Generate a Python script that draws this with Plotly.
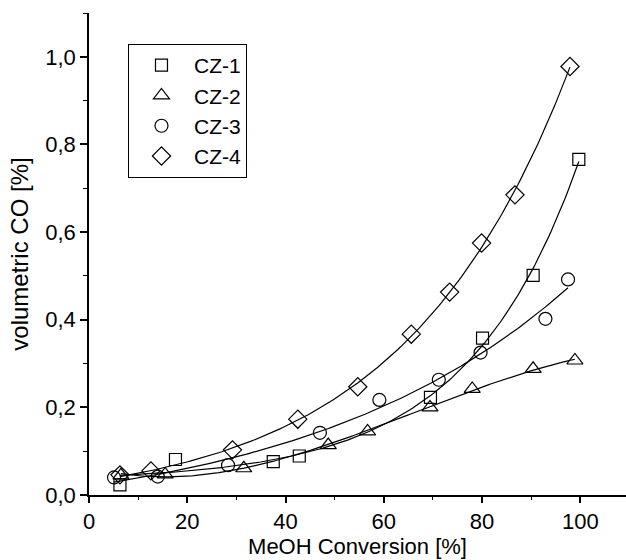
import numpy as np
import plotly.graph_objects as go

# MeOH conversion [%] and volumetric CO [%] for each catalyst
cz1_x = [6.3, 17.6, 37.5, 42.8, 69.5, 80.1, 90.4, 99.7]
cz1_y = [0.023, 0.081, 0.076, 0.089, 0.223, 0.358, 0.501, 0.766]

cz2_x = [6.5, 15.5, 31.5, 48.7, 56.7, 69.4, 78.0, 90.4, 98.9]
cz2_y = [0.045, 0.047, 0.061, 0.114, 0.145, 0.200, 0.242, 0.288, 0.307]

cz3_x = [5.1, 14.0, 28.3, 47.0, 59.1, 71.2, 79.7, 92.9, 97.5]
cz3_y = [0.040, 0.042, 0.068, 0.142, 0.217, 0.263, 0.325, 0.402, 0.492]

cz4_x = [6.3, 12.6, 29.2, 42.5, 54.7, 65.6, 73.4, 79.9, 86.7, 97.9]
cz4_y = [0.046, 0.055, 0.103, 0.173, 0.247, 0.367, 0.463, 0.575, 0.685, 0.978]

series = [
    ("CZ-1", cz1_x, cz1_y, "square-open", 12, "exp"),
    ("CZ-2", cz2_x, cz2_y, "triangle-up-open", 14, "poly"),
    ("CZ-3", cz3_x, cz3_y, "circle-open", 13, "exp"),
    ("CZ-4", cz4_x, cz4_y, "diamond-open", 14, "exp"),
]


def fit_exp_growth(xs, ys):
    """Least-squares y = y0 + A*exp(x/t), scanning t and solving y0, A linearly."""
    xs = np.asarray(xs, float)
    ys = np.asarray(ys, float)
    best = None
    for t in np.linspace(5, 200, 2000):
        M = np.column_stack([np.ones_like(xs), np.exp(xs / t)])
        coef, *_ = np.linalg.lstsq(M, ys, rcond=None)
        err = np.sum((M @ coef - ys) ** 2)
        if best is None or err < best[0]:
            best = (err, t, coef)
    _, t, (y0, a) = best
    return lambda x: y0 + a * np.exp(x / t)


fig = go.Figure()

# fitted curves drawn beneath the markers
for name, xs, ys, sym, size, kind in series:
    if kind == "exp":
        f = fit_exp_growth(xs, ys)
    else:
        c = np.polyfit(xs, ys, 3)
        f = lambda x, c=c: np.polyval(c, x)
    xf = np.linspace(min(xs), max(xs), 200)
    fig.add_trace(go.Scatter(
        x=xf, y=f(xf), mode="lines",
        line=dict(color="black", width=1.2),
        showlegend=False, hoverinfo="skip",
    ))

for name, xs, ys, sym, size, kind in series:
    fig.add_trace(go.Scatter(
        x=xs, y=ys, mode="markers", name=name,
        marker=dict(symbol=sym, size=size, color="black",
                    line=dict(color="black", width=1.2)),
    ))

font_family = "Liberation Sans, Arial, sans-serif"

fig.update_layout(
    width=626, height=560,
    margin=dict(l=89, r=0, t=13, b=65),
    paper_bgcolor="white", plot_bgcolor="white",
    separators=",.",
    font=dict(family=font_family, size=22, color="black"),
    showlegend=True,
    legend=dict(
        x=0.0726, y=0.9357, xanchor="left", yanchor="top",
        bordercolor="black", borderwidth=1, bgcolor="white",
        font=dict(size=21), tracegroupgap=0, itemwidth=55,
    ),
    xaxis=dict(
        range=[0, 109.3], showgrid=False, zeroline=False,
        showline=True, linecolor="black", linewidth=1.5,
        ticks="outside", ticklen=6, tickwidth=1.5, tickcolor="black",
        tickmode="linear", tick0=0, dtick=20,
        minor=dict(ticks="outside", ticklen=3, tickwidth=1.2,
                   tickcolor="black", dtick=10, showgrid=False),
        title=dict(text="MeOH Conversion [%]", font=dict(size=22), standoff=2),
        tickfont=dict(size=22),
    ),
    yaxis=dict(
        range=[0, 1.1], showgrid=False, zeroline=False,
        showline=True, linecolor="black", linewidth=1.5,
        ticks="outside", ticklen=7, tickwidth=1.5, tickcolor="black",
        tickmode="linear", tick0=0, dtick=0.2, tickformat=".1f",
        minor=dict(ticks="outside", ticklen=4, tickwidth=1.2,
                   tickcolor="black", dtick=0.1, showgrid=False),
        title=dict(text="volumetric CO [%]", font=dict(size=24), standoff=10),
        tickfont=dict(size=22),
    ),
)

fig.write_html("out.html")
